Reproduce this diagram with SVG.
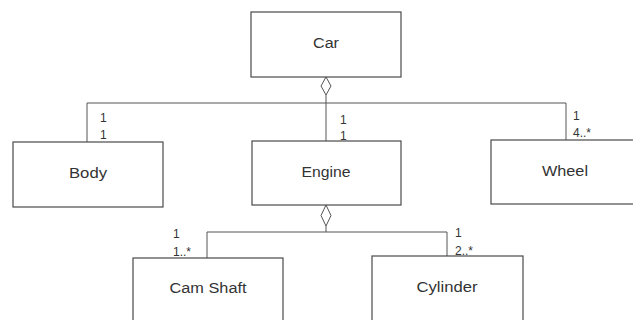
<svg xmlns="http://www.w3.org/2000/svg" width="633" height="320" viewBox="0 0 633 320">
<style>
.box{fill:#fff;stroke:#4a4a4a;stroke-width:1.2}
.lbl{font-family:"Liberation Sans",Arial,sans-serif;font-size:14px;fill:#333;text-anchor:middle}
.m{font-family:"Liberation Sans",Arial,sans-serif;font-size:12px;fill:#333}
.ln{fill:none;stroke:#555;stroke-width:1}
.dia{fill:#fff;stroke:#555;stroke-width:1}
</style>
<rect width="633" height="320" fill="#fff"/>
<g id="connectors">
<path class="ln" d="M326,95 V141 M87,142 V103 H566 V140"/>
<path class="dia" d="M326,77 L331,86 L326,95 L321,86 Z"/>
<path class="ln" d="M326,226 V232 M207,258 V232 H447 V256"/>
<path class="dia" d="M326,205 L331,215.5 L326,226 L321,215.5 Z"/>
<text class="m" x="100" y="122">1</text>
<text class="m" x="100" y="139">1</text>
<text class="m" x="340" y="124">1</text>
<text class="m" x="340" y="140">1</text>
<text class="m" x="573" y="120">1</text>
<text class="m" x="573" y="137">4..*</text>
<text class="m" x="173" y="238">1</text>
<text class="m" x="173" y="256">1..*</text>
<text class="m" x="455" y="237">1</text>
<text class="m" x="455" y="255">2..*</text>
</g>
<g id="car">
<rect class="box" x="251" y="12" width="150" height="65"/>
<text class="lbl" x="326" y="48" textLength="26" lengthAdjust="spacingAndGlyphs">Car</text>
</g>
<g id="body">
<rect class="box" x="13" y="142" width="150" height="65"/>
<text class="lbl" x="88" y="178" textLength="38" lengthAdjust="spacingAndGlyphs">Body</text>
</g>
<g id="engine">
<rect class="box" x="252" y="141" width="149" height="64"/>
<text class="lbl" x="326" y="177" textLength="49" lengthAdjust="spacingAndGlyphs">Engine</text>
</g>
<g id="wheel">
<rect class="box" x="491" y="140" width="160" height="64"/>
<text class="lbl" x="565" y="176" textLength="46" lengthAdjust="spacingAndGlyphs">Wheel</text>
</g>
<g id="camshaft">
<rect class="box" x="133" y="258" width="150" height="80"/>
<text class="lbl" x="208" y="293" textLength="77" lengthAdjust="spacingAndGlyphs">Cam Shaft</text>
</g>
<g id="cylinder">
<rect class="box" x="372" y="256" width="151" height="80"/>
<text class="lbl" x="447" y="292" textLength="61" lengthAdjust="spacingAndGlyphs">Cylinder</text>
</g>
</svg>
